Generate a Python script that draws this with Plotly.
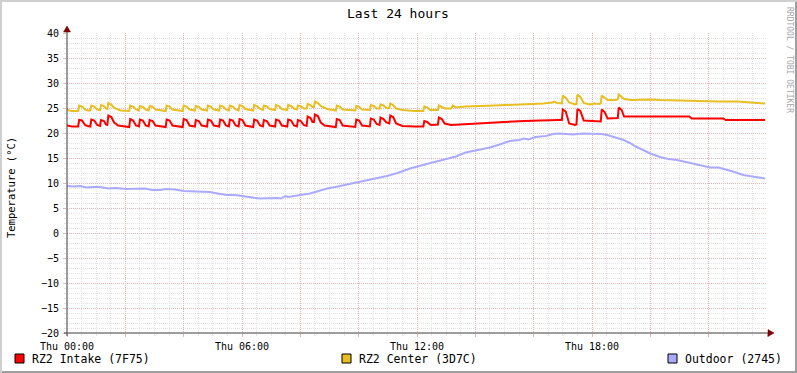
import plotly.graph_objects as go

# ---------------- data (time in minutes since Thu 00:00, temperature in °C) ----------------
series_names = ["RZ2 Intake (7F75)", "RZ2 Center (3D7C)", "Outdoor (2745)"]
series_colors = ["#FF0000", "#E8BE20", "#AAAAFF"]

intake_points = [
    (0, 21.5), (10, 21.3), (23, 21.3), (25, 22.6), (31, 22.5), (37, 21.6), (42, 21.4),
    (48, 21.3), (50, 22.7), (56, 22.5), (62, 21.6),
    (68, 21.4), (70, 22.6), (76, 22.4), (80, 21.7),
    (83, 21.6), (85, 23.5), (91, 23.2), (97, 22.1), (105, 21.5),
    (128, 21.2), (130, 22.8), (136, 22.5), (142, 21.5),
    (148, 21.3), (150, 22.7), (156, 22.5), (162, 21.5),
    (168, 21.3), (170, 22.6), (176, 22.4), (182, 21.5),
    (203, 21.2), (205, 22.7), (211, 22.5), (217, 21.5),
    (238, 21.2), (240, 22.8), (246, 22.6), (252, 21.5),
    (263, 21.3), (265, 22.6), (271, 22.4), (277, 21.5),
    (288, 21.3), (290, 22.7), (296, 22.5), (302, 21.5),
    (313, 21.3), (315, 22.7), (321, 22.5), (327, 21.5),
    (333, 21.3), (335, 22.7), (341, 22.5), (347, 21.5),
    (353, 21.3), (355, 22.8), (361, 22.6), (367, 21.5),
    (383, 21.2), (385, 22.7), (391, 22.5), (397, 21.5),
    (403, 21.3), (405, 22.6), (411, 22.4), (417, 21.5),
    (428, 21.3), (430, 22.7), (436, 22.5), (442, 21.5),
    (453, 21.3), (455, 22.7), (461, 22.5), (467, 21.5),
    (473, 21.3), (475, 22.6), (481, 22.4), (487, 21.6),
    (493, 21.4), (495, 23.3), (501, 23.0), (505, 22.2),
    (508, 22.2), (510, 23.7), (516, 23.4), (522, 22.1), (530, 21.5),
    (553, 21.2), (555, 22.8), (561, 22.6), (567, 21.5),
    (593, 21.2), (595, 22.7), (601, 22.5), (607, 21.5),
    (623, 21.3), (625, 22.9), (631, 22.7), (637, 21.8),
    (643, 21.6), (645, 23.1), (651, 22.8), (657, 22.1),
    (663, 21.9), (665, 23.5), (671, 23.2), (677, 21.9), (690, 21.4),
    (715, 21.3), (733, 21.3), (735, 22.4), (741, 22.2), (747, 21.7),
    (750, 21.6), (763, 21.7), (765, 23.1), (771, 22.8), (777, 21.9), (790, 21.6),
    (820, 21.8), (860, 22.0), (900, 22.2), (940, 22.4), (980, 22.6), (1010, 22.6),
    (1018, 22.6), (1020, 24.7), (1026, 24.3), (1033, 21.9), (1045, 21.6),
    (1048, 21.7), (1050, 24.8), (1056, 24.4), (1063, 22.5), (1080, 22.4),
    (1090, 22.2), (1098, 22.3), (1100, 24.7), (1106, 24.2), (1112, 22.9),
    (1130, 22.9), (1133, 23.0), (1135, 25.1), (1141, 24.6), (1146, 23.3),
    (1280, 23.3), (1285, 22.9), (1350, 22.9), (1355, 22.6), (1436, 22.6),
]

center_points = [
    (0, 24.6), (10, 24.4), (23, 24.4), (25, 25.5), (31, 25.3), (37, 24.7), (42, 24.5),
    (48, 24.5), (50, 25.5), (56, 25.3), (62, 24.7),
    (68, 24.6), (70, 25.6), (76, 25.4), (80, 24.9),
    (83, 24.8), (85, 26.0), (91, 25.7), (97, 25.0), (110, 24.5),
    (128, 24.4), (130, 25.5), (136, 25.3), (142, 24.7),
    (148, 24.5), (150, 25.4), (156, 25.2), (162, 24.7),
    (168, 24.5), (170, 25.4), (176, 25.2), (182, 24.7),
    (203, 24.4), (205, 25.5), (211, 25.3), (217, 24.7),
    (238, 24.4), (240, 25.5), (246, 25.3), (252, 24.7),
    (263, 24.5), (265, 25.4), (271, 25.2), (277, 24.7),
    (288, 24.5), (290, 25.5), (296, 25.3), (302, 24.7),
    (313, 24.5), (315, 25.5), (321, 25.3), (327, 24.7),
    (333, 24.5), (335, 25.5), (341, 25.3), (347, 24.7),
    (353, 24.5), (355, 25.6), (361, 25.4), (367, 24.8),
    (383, 24.5), (385, 25.6), (391, 25.4), (397, 24.8),
    (403, 24.6), (405, 25.5), (411, 25.3), (417, 24.8),
    (428, 24.6), (430, 25.6), (436, 25.4), (442, 24.8),
    (453, 24.6), (455, 25.6), (461, 25.4), (467, 24.9),
    (473, 24.7), (475, 25.5), (481, 25.3), (487, 24.9),
    (493, 24.9), (495, 25.8), (501, 25.6), (505, 25.2),
    (508, 25.2), (510, 26.3), (516, 26.0), (522, 25.4), (535, 24.8), (545, 24.6),
    (553, 24.5), (555, 25.5), (561, 25.3), (567, 24.7),
    (593, 24.5), (595, 25.4), (601, 25.2), (607, 24.7),
    (623, 24.6), (625, 25.6), (631, 25.4), (637, 24.9),
    (643, 24.9), (645, 25.7), (651, 25.5), (657, 25.0),
    (663, 25.0), (665, 25.9), (671, 25.6), (677, 24.9), (690, 24.6),
    (715, 24.4), (733, 24.4), (735, 25.3), (741, 25.1), (747, 24.6),
    (750, 24.6), (763, 24.6), (765, 25.5), (771, 25.2), (777, 24.9), (790, 24.9),
    (794, 25.5), (800, 25.1), (820, 25.3), (880, 25.5), (920, 25.6), (950, 25.7),
    (980, 25.9), (998, 26.1), (1003, 26.3), (1008, 26.0), (1018, 25.9),
    (1020, 27.5), (1026, 27.0), (1033, 26.1), (1045, 25.7), (1048, 25.8),
    (1050, 27.7), (1056, 27.2), (1063, 26.0), (1075, 25.7), (1085, 25.9),
    (1095, 25.8), (1098, 25.9), (1100, 27.5), (1106, 27.0), (1112, 26.6),
    (1130, 26.6), (1133, 26.8), (1135, 27.7), (1141, 27.2), (1146, 26.8),
    (1160, 26.6), (1200, 26.7), (1220, 26.6), (1250, 26.5), (1280, 26.5),
    (1300, 26.4), (1340, 26.3), (1380, 26.3), (1400, 26.2), (1420, 26.0), (1436, 25.9),
]

outdoor_points = [
    (0, 9.4), (15, 9.3), (27, 9.4), (40, 9.1), (55, 9.2), (68, 9.2), (85, 8.9),
    (100, 9.0), (123, 8.8), (140, 8.9), (160, 8.9), (175, 8.6), (191, 8.6),
    (205, 8.8), (222, 8.7), (240, 8.4), (259, 8.3), (275, 8.3), (294, 8.2),
    (310, 7.9), (329, 7.6), (345, 7.6), (356, 7.5), (375, 7.2), (397, 6.9),
    (415, 7.0), (432, 7.0), (440, 6.9), (449, 7.4), (455, 7.2), (465, 7.3),
    (480, 7.6), (500, 7.9), (518, 8.4), (535, 8.9), (552, 9.2), (572, 9.6),
    (590, 10.0), (603, 10.3), (620, 10.6), (634, 10.9), (645, 11.1), (658, 11.4),
    (680, 12.0), (706, 12.9), (740, 13.8), (773, 14.6), (800, 15.3), (820, 16.1),
    (843, 16.6), (870, 17.1), (890, 17.7), (911, 18.4), (930, 18.6), (940, 18.9),
    (950, 18.7), (963, 19.2), (985, 19.4), (1000, 19.8), (1014, 19.9), (1040, 19.7),
    (1060, 19.9), (1082, 19.8), (1100, 19.8), (1115, 19.5), (1131, 19.1),
    (1145, 18.6), (1158, 18.0), (1170, 17.3), (1185, 16.6), (1200, 15.9),
    (1220, 15.2), (1237, 14.8), (1255, 14.6), (1280, 14.0), (1302, 13.6),
    (1323, 13.1), (1340, 13.1), (1353, 12.8), (1370, 12.3), (1391, 11.6),
    (1410, 11.3), (1425, 11.0), (1436, 10.9),
]

x_tick_vals = [0, 120, 240, 360, 480, 600, 720, 840, 960, 1080, 1200, 1320, 1440]
x_tick_text = ["Thu 00:00", "", "", "Thu 06:00", "", "", "Thu 12:00", "", "",
               "Thu 18:00", "", "", ""]
y_tick_vals = [-20, -15, -10, -5, 0, 5, 10, 15, 20, 25, 30, 35, 40]

title_text = "Last 24 hours"
y_title = "Temperature (°C)"
watermark = "RRDTOOL / TOBI OETIKER"

# ---------------- figure ----------------
W, H = 797, 373
L, R, T, B = 67, 30, 33, 40
PW, PH = W - L - R, H - T - B

def px(x):
    return (x - L) / PW

def py(y):
    return (H - B - y) / PH

MONO = "DejaVu Sans Mono"
fig = go.Figure()

for name, pts, col in zip(series_names, [intake_points, center_points, outdoor_points], series_colors):
    fig.add_trace(go.Scatter(
        x=[p[0] for p in pts], y=[p[1] for p in pts], mode="lines", name=name,
        line=dict(color=col, width=2), showlegend=False, hoverinfo="skip",
    ))

major_grid = "#EBB4B4"
minor_grid = "#E3E3E3"

fig.update_xaxes(
    range=[0, 1440], tickmode="array", tickvals=x_tick_vals, ticktext=x_tick_text,
    showgrid=True, gridcolor=major_grid, griddash="1px,1px", gridwidth=1,
    ticks="outside", ticklen=3, tickcolor=major_grid, showline=False, zeroline=False,
    minor=dict(tickmode="linear", tick0=0, dtick=30, showgrid=True, gridcolor=minor_grid,
               griddash="1px,1px", ticks="outside", ticklen=2, tickcolor=minor_grid),
    tickfont=dict(family=MONO, size=10, color="#000000"), ticklabelstandoff=1,
    fixedrange=True,
)
fig.update_yaxes(
    range=[-20, 40], tickmode="array", tickvals=y_tick_vals,
    showgrid=True, gridcolor=major_grid, griddash="1px,1px", gridwidth=1,
    ticks="outside", ticklen=3, tickcolor=major_grid, showline=False, zeroline=False,
    minor=dict(tickmode="linear", tick0=0, dtick=1, showgrid=True, gridcolor=minor_grid,
               griddash="1px,1px", ticks="outside", ticklen=2, tickcolor=minor_grid),
    tickfont=dict(family=MONO, size=10, color="#000000"), ticklabelstandoff=2,
    fixedrange=True,
)

shapes = []
# frame shading
shapes.append(dict(type="rect", xref="paper", yref="paper", x0=px(0), x1=px(W), y0=py(2), y1=py(0),
                   fillcolor="#CFCFCF", line=dict(width=0), layer="above"))
shapes.append(dict(type="rect", xref="paper", yref="paper", x0=px(0), x1=px(2), y0=py(H), y1=py(0),
                   fillcolor="#CFCFCF", line=dict(width=0), layer="above"))
shapes.append(dict(type="rect", xref="paper", yref="paper", x0=px(2), x1=px(W), y0=py(H), y1=py(H - 2),
                   fillcolor="#9E9E9E", line=dict(width=0), layer="above"))
shapes.append(dict(type="rect", xref="paper", yref="paper", x0=px(W - 2), x1=px(W), y0=py(H), y1=py(2),
                   fillcolor="#9E9E9E", line=dict(width=0), layer="above"))
# axis lines
axis_col = "#3C3C3C"
arrow_col = "#7F0000"
shapes.append(dict(type="line", xref="paper", yref="paper", x0=px(L), x1=px(L), y0=py(H - B + 3), y1=py(29),
                   line=dict(color=axis_col, width=1), layer="above"))
shapes.append(dict(type="line", xref="paper", yref="paper", x0=px(L - 3), x1=px(769), y0=py(H - B), y1=py(H - B),
                   line=dict(color=axis_col, width=1), layer="above"))
# arrows
shapes.append(dict(type="path", xref="paper", yref="paper",
                   path=f"M {px(L)},{py(26)} L {px(L - 3.5)},{py(32)} L {px(L + 3.5)},{py(32)} Z",
                   fillcolor=arrow_col, line=dict(color=arrow_col, width=0.5), layer="above"))
shapes.append(dict(type="path", xref="paper", yref="paper",
                   path=f"M {px(774)},{py(H - B)} L {px(768)},{py(H - B - 3.5)} L {px(768)},{py(H - B + 3.5)} Z",
                   fillcolor=arrow_col, line=dict(color=arrow_col, width=0.5), layer="above"))

annotations = []
annotations.append(dict(text=title_text, x=px(398), y=py(13), xref="paper", yref="paper",
                        showarrow=False, xanchor="center", yanchor="middle",
                        font=dict(family=MONO, size=13, color="#000000")))
annotations.append(dict(text=y_title, x=px(11), y=py(188), xref="paper", yref="paper",
                        showarrow=False, xanchor="center", yanchor="middle", textangle=-90,
                        font=dict(family=MONO, size=10.5, color="#000000")))
annotations.append(dict(text=watermark, x=px(789), y=py(60), xref="paper", yref="paper",
                        showarrow=False, xanchor="center", yanchor="middle", textangle=90,
                        font=dict(family=MONO, size=8, color="#A8A8A8")))

# legend (squares + labels)
legend_sq_x = [15, 342, 668]
for name, col, sx in zip(series_names, series_colors, legend_sq_x):
    shapes.append(dict(type="rect", xref="paper", yref="paper", x0=px(sx), x1=px(sx + 9),
                       y0=py(363), y1=py(354), fillcolor=col,
                       line=dict(color="#000000", width=1), layer="above"))
    annotations.append(dict(text=name, x=px(sx + 15), y=py(358.5), xref="paper", yref="paper",
                            showarrow=False, xanchor="left", yanchor="middle",
                            font=dict(family=MONO, size=11.5, color="#000000")))

fig.update_layout(
    width=W, height=H, margin=dict(l=L, r=R, t=T, b=B, pad=0),
    paper_bgcolor="#FFFFFF", plot_bgcolor="#FFFFFF",
    shapes=shapes, annotations=annotations, showlegend=False,
)

fig.write_html(
    "out.html",
    config={"displayModeBar": False},
    post_script="document.body.style.margin='0px';document.body.style.overflow='hidden';",
)
